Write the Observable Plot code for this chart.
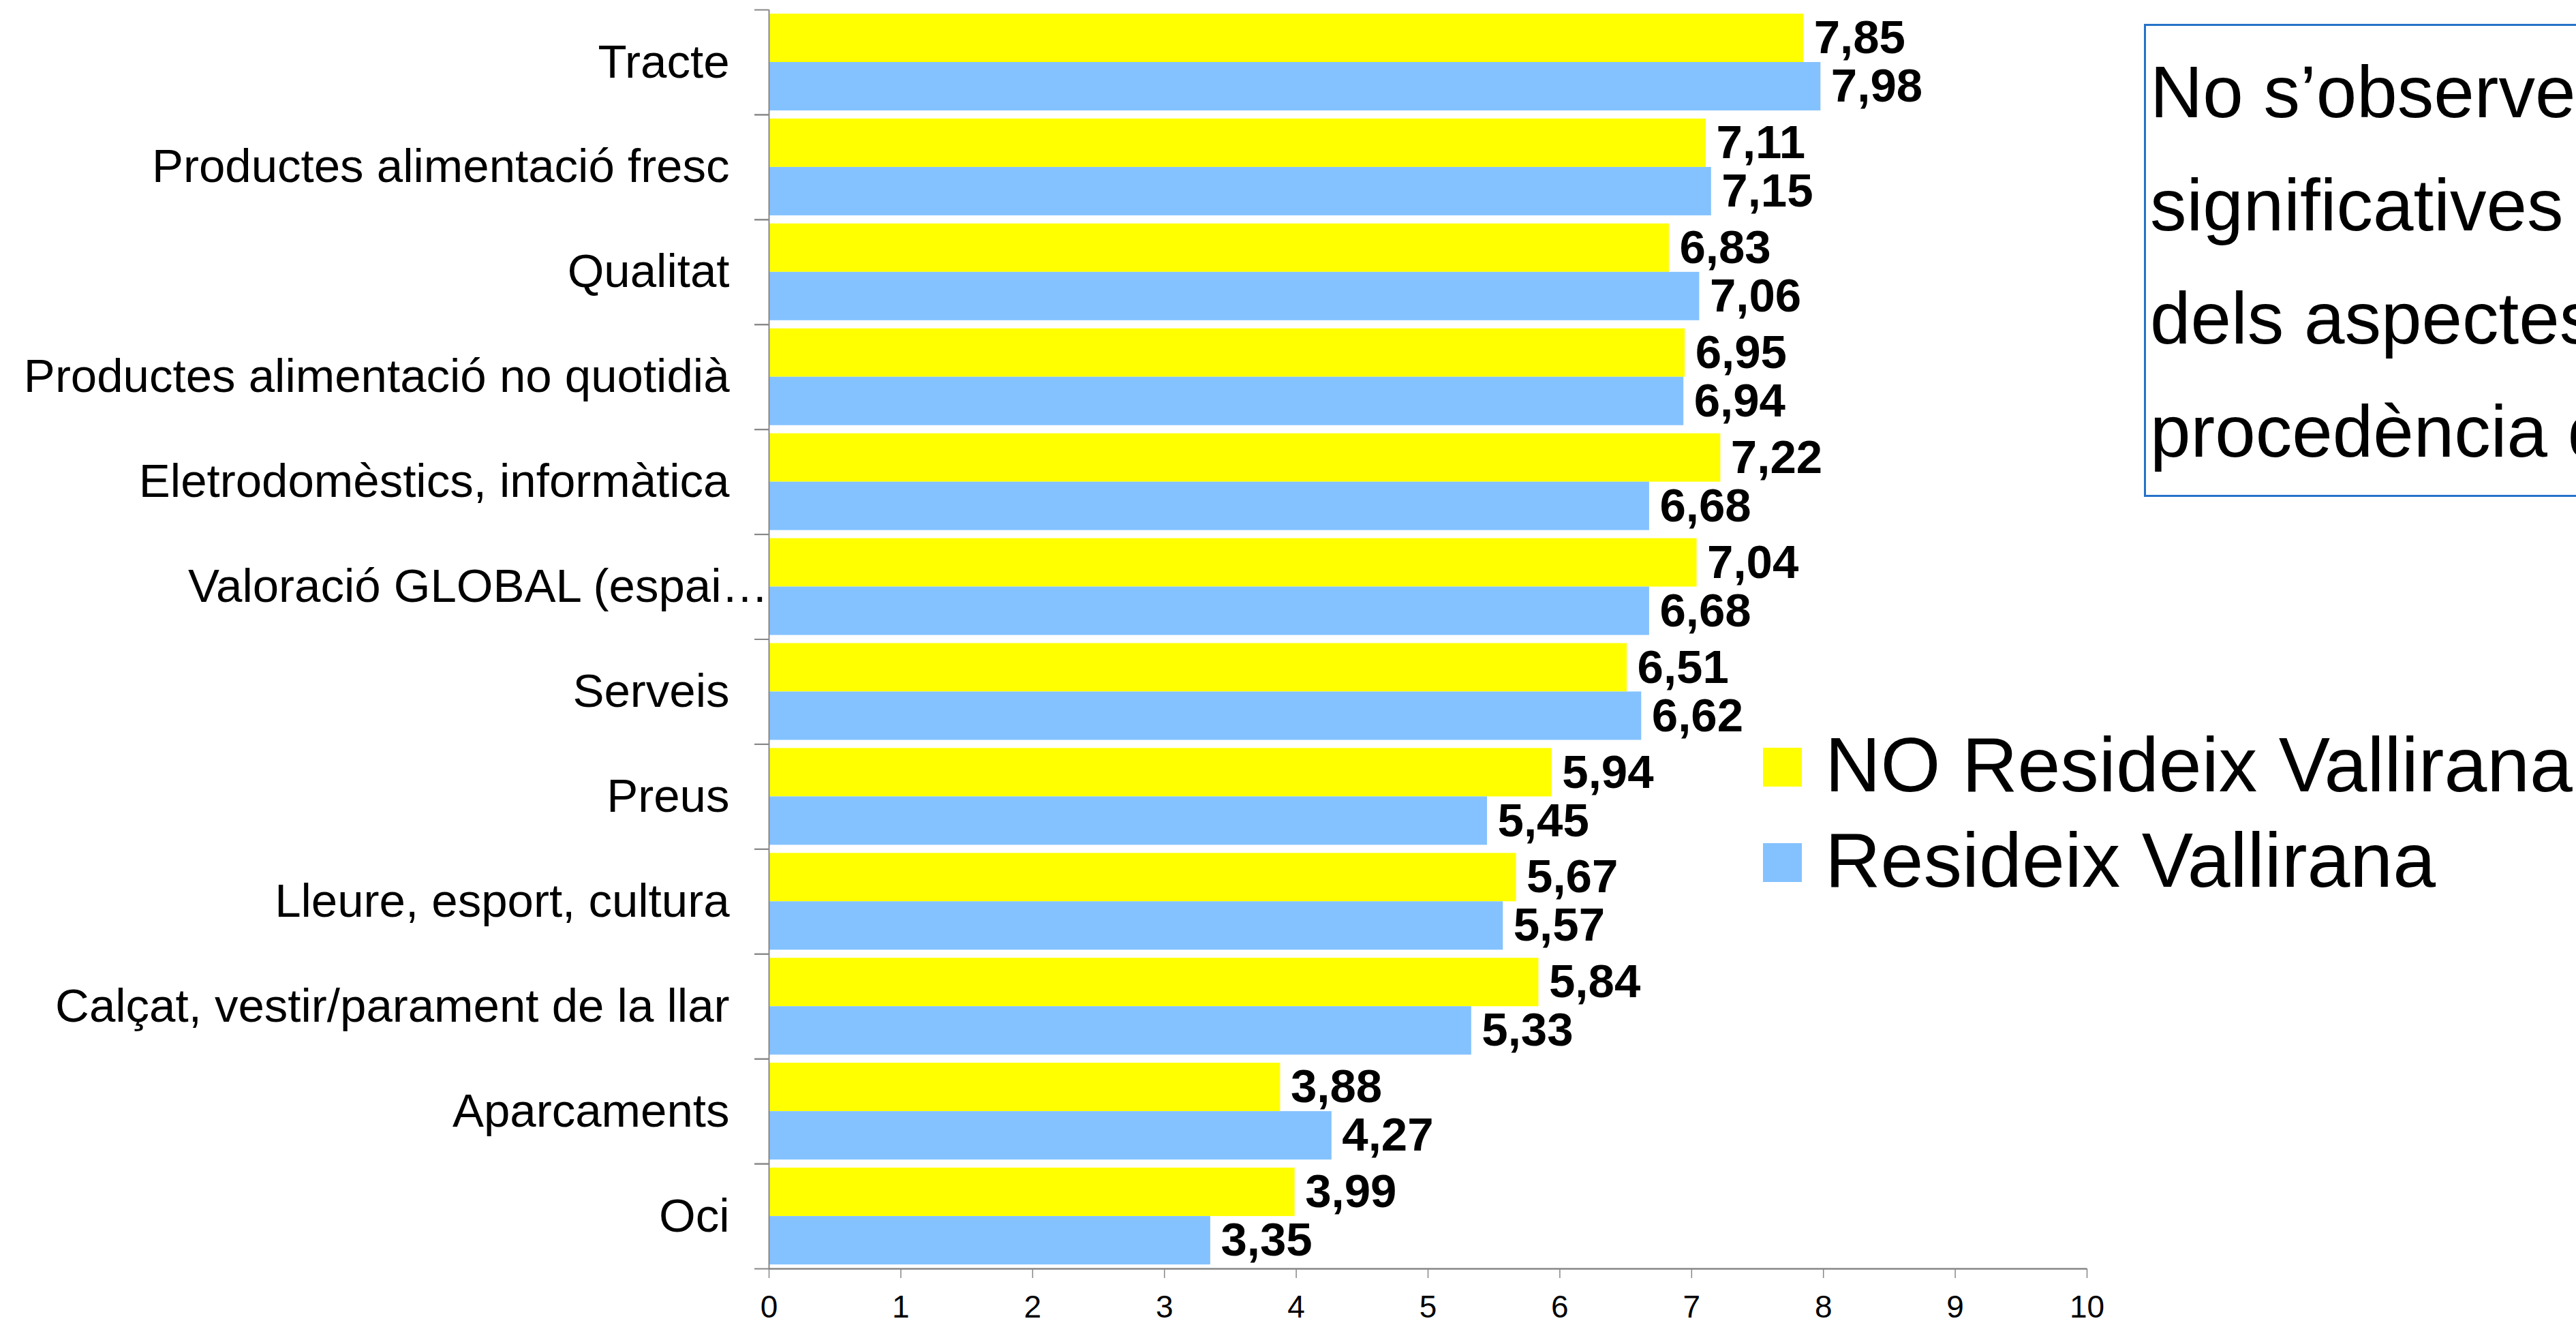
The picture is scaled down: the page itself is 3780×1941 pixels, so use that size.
<!DOCTYPE html>
<html>
<head>
<meta charset="utf-8">
<script src="https://cdn.jsdelivr.net/npm/d3@7"></script>
<script src="https://cdn.jsdelivr.net/npm/@observablehq/plot@0.6"></script>
<style>
  html, body { margin: 0; padding: 0; background: #fff; }
  body { width: 3780px; height: 1941px; overflow: hidden; position: relative;
         font-family: "Liberation Sans", Arial, sans-serif; }
  #chart { position: absolute; left: 0; top: 0; }
  .leg-sw { position: absolute; width: 57px; height: 57px; }
  .leg-tx { position: absolute; font-size: 113px; line-height: 1; white-space: nowrap; color: #000; }
  #note { position: absolute; left: 3146px; top: 35px; width: 1200px; height: 694px;
          border: 3px solid #2672c9; box-sizing: border-box;
          padding: 14px 0 0 6px; font-size: 107px; line-height: 166px; white-space: nowrap; color: #000; }
</style>
</head>
<body>
<div id="chart"></div>
<div id="legend"></div>
<div id="note"></div>
<script>
// ---- data ----
const categories = [
  "Tracte",
  "Productes alimentació fresc",
  "Qualitat",
  "Productes alimentació no quotidià",
  "Eletrodomèstics, informàtica",
  "Valoració GLOBAL (espai…",
  "Serveis",
  "Preus",
  "Lleure, esport, cultura",
  "Calçat, vestir/parament de la llar",
  "Aparcaments",
  "Oci"
];
const noResideix = [7.85, 7.11, 6.83, 6.95, 7.22, 7.04, 6.51, 5.94, 5.67, 5.84, 3.88, 3.99];
const resideix   = [7.98, 7.15, 7.06, 6.94, 6.68, 6.68, 6.62, 5.45, 5.57, 5.33, 4.27, 3.35];
const seriesNames = ["NO Resideix Vallirana", "Resideix Vallirana"];
const xTicks = [0, 1, 2, 3, 4, 5, 6, 7, 8, 9, 10];
const noteLines = ["No s’observe", "significatives", "dels aspectes", "procedència d"];

// ---- style ----
const FONT = '"Liberation Sans", Arial, sans-serif';
const YELLOW = "#ffff00";
const BLUE = "#84c2ff";
const GRAY = "#878787";
const W = 3780, H = 1941, mt = 14, mb = 80, ml = 1128, mr = 718;
const step = (H - mt - mb) / categories.length;

const rowsNo = categories.map((c, i) => ({category: c, value: noResideix[i]}));
const rowsRes = categories.map((c, i) => ({category: c, value: resideix[i]}));
const fmt = v => v.toFixed(2).replace(".", ",");
const truncated = categories.filter(c => c.endsWith("…"));
const normal = categories.filter(c => !c.endsWith("…"));

const chart = Plot.plot({
  width: W,
  height: H,
  marginTop: mt,
  marginBottom: mb,
  marginLeft: ml,
  marginRight: mr,
  style: {fontFamily: FONT, background: "transparent", color: "#000", overflow: "visible"},
  x: {domain: [0, 10], label: null},
  y: {domain: categories, padding: 0, round: false, label: null},
  marks: [
    Plot.barX(rowsNo, {x: "value", y: "category", fill: YELLOW, insetTop: 6, insetBottom: step - 77}),
    Plot.barX(rowsRes, {x: "value", y: "category", fill: BLUE, insetTop: 77, insetBottom: step - 148}),
    Plot.ruleX([0], {stroke: GRAY, strokeWidth: 2}),
    Plot.ruleY([categories[categories.length - 1]], {dy: step / 2, stroke: GRAY, strokeWidth: 2.5}),
    Plot.axisY({tickSize: 21, tickFormat: () => "", dy: -step / 2, stroke: GRAY, strokeWidth: 2, label: null}),
    Plot.axisY({tickSize: 21, tickFormat: () => "", dy: step / 2, stroke: GRAY, strokeWidth: 2, label: null}),
    Plot.axisY({ticks: normal, tickSize: 0, tickPadding: 58, fontSize: 69, fill: "#000", label: null}),
    Plot.axisY({ticks: truncated, tickSize: 0, tickPadding: 1, fontSize: 69, fill: "#000", label: null}),
    Plot.axisX({ticks: xTicks, tickSize: 14, tickPadding: 25, fontSize: 46, stroke: GRAY, strokeWidth: 1.5, fill: "#000", label: null}),
    Plot.text(rowsNo, {x: "value", y: "category", text: d => fmt(d.value), textAnchor: "start",
      dx: 15, dy: 41.5 - step / 2, fontSize: 69, fontWeight: "bold", fill: "#000"}),
    Plot.text(rowsRes, {x: "value", y: "category", text: d => fmt(d.value), textAnchor: "start",
      dx: 15, dy: 112.5 - step / 2, fontSize: 69, fontWeight: "bold", fill: "#000"})
  ]
});
document.getElementById("chart").appendChild(chart);

// ---- note box (HTML overlay, cut by the page edge as in the original) ----
const note = document.getElementById("note");
noteLines.forEach((line, i) => {
  if (i > 0) note.appendChild(document.createElement("br"));
  note.appendChild(document.createTextNode(line));
});

// ---- legend (HTML overlay) ----
const legend = document.getElementById("legend");
const legendColors = [YELLOW, BLUE];
const legendTops = [1097, 1237];
seriesNames.forEach((name, i) => {
  const sw = document.createElement("div");
  sw.className = "leg-sw";
  sw.style.left = "2587px";
  sw.style.top = legendTops[i] + "px";
  sw.style.background = legendColors[i];
  legend.appendChild(sw);
  const tx = document.createElement("div");
  tx.className = "leg-tx";
  tx.style.left = "2678px";
  tx.style.top = (legendTops[i] - 31) + "px";
  tx.textContent = name;
  legend.appendChild(tx);
});
</script>
</body>
</html>
